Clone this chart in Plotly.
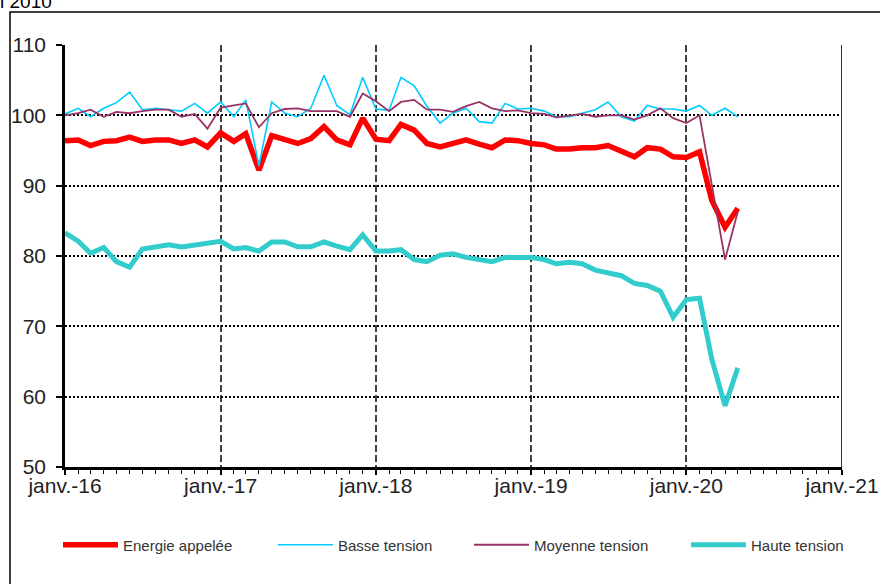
import plotly.graph_objects as go

months = [f"{2016 + i // 12}-{i % 12 + 1:02d}-01" for i in range(53)]

energie = [96.4, 96.5, 95.7, 96.3, 96.4, 96.9, 96.3, 96.5, 96.5, 96.0, 96.5, 95.5,
           97.5, 96.3, 97.4, 92.2, 97.1, 96.6, 96.0, 96.7, 98.4, 96.5, 95.8, 99.6,
           96.6, 96.4, 98.7, 97.9, 96.0, 95.5, 96.0, 96.5, 95.9, 95.4, 96.5, 96.4,
           96.0, 95.8, 95.2, 95.2, 95.4, 95.4, 95.7, 95.0, 94.1, 95.4, 95.2, 94.1,
           94.0, 94.8, 87.9, 84.1, 86.8]
basse = [100.2, 101.0, 99.8, 101.0, 101.8, 103.3, 100.8, 101.0, 100.8, 100.6, 101.7, 100.3,
         101.9, 99.8, 102.2, 92.8, 101.9, 100.3, 99.8, 101.0, 105.7, 101.4, 100.1, 105.4,
         100.9, 100.7, 105.4, 104.2, 101.3, 98.9, 100.3, 101.0, 99.1, 98.9, 101.7, 100.9,
         101.0, 100.6, 99.8, 99.8, 100.3, 100.8, 101.9, 99.8, 99.2, 101.4, 100.9, 100.9,
         100.6, 101.4, 100.0, 101.0, 99.8]
moyenne = [100.0, 100.3, 100.8, 99.8, 100.5, 100.3, 100.6, 100.8, 100.8, 99.8, 100.2, 98.1,
           101.1, 101.4, 101.7, 98.3, 100.3, 100.9, 101.0, 100.6, 100.6, 100.6, 99.8, 103.1,
           102.0, 100.6, 101.9, 102.2, 100.8, 100.8, 100.5, 101.3, 101.9, 101.0, 100.6, 100.7,
           100.3, 100.2, 99.7, 100.0, 100.2, 99.8, 100.0, 100.0, 99.4, 100.0, 101.0, 99.6,
           98.9, 100.0, 89.8, 79.5, 86.3]
haute = [83.3, 82.1, 80.4, 81.2, 79.2, 78.4, 81.0, 81.3, 81.6, 81.3, 81.6, 81.9,
         82.1, 81.0, 81.2, 80.7, 82.0, 82.0, 81.3, 81.3, 82.0, 81.4, 80.9, 83.0,
         80.7, 80.7, 80.9, 79.5, 79.2, 80.1, 80.3, 79.8, 79.5, 79.2, 79.8, 79.8,
         79.8, 79.5, 78.9, 79.1, 78.9, 78.0, 77.6, 77.2, 76.1, 75.8, 75.0, 71.3,
         73.8, 74.0, 65.3, 58.7, 64.1]

year_ticks = ["2016-01-01", "2017-01-01", "2018-01-01", "2019-01-01", "2020-01-01", "2021-01-01"]
year_labels = ["janv.-16", "janv.-17", "janv.-18", "janv.-19", "janv.-20", "janv.-21"]
y_ticks = [50, 60, 70, 80, 90, 100, 110]

FONT = "Liberation Sans, Arial, sans-serif"
L, R, T, B = 65, 38, 45, 117
W, H = 880, 584
PW, PH = W - L - R, H - T - B


def px_x(px):
    return (px - L) / PW


def px_y(py):
    return (H - B - py) / PH


fig = go.Figure()
fig.add_trace(go.Scatter(x=months, y=energie, name="Energie appelée", mode="lines",
                         line=dict(color="#FF0000", width=5.5), legend="legend"))
fig.add_trace(go.Scatter(x=months, y=basse, name="Basse tension", mode="lines",
                         line=dict(color="#00CCFF", width=1.6), legend="legend2"))
fig.add_trace(go.Scatter(x=months, y=moyenne, name="Moyenne tension", mode="lines",
                         line=dict(color="#993366", width=1.8), legend="legend3"))
fig.add_trace(go.Scatter(x=months, y=haute, name="Haute tension", mode="lines",
                         line=dict(color="#33CCCC", width=5), legend="legend4"))

leg_common = dict(orientation="h", y=px_y(545), xanchor="left", yanchor="middle",
                  font=dict(size=15, family=FONT, color="#333333"), itemwidth=55,
                  bgcolor="rgba(0,0,0,0)")

fig.update_layout(
    width=W, height=H,
    margin=dict(l=L, r=R, t=T, b=B, autoexpand=False),
    paper_bgcolor="white", plot_bgcolor="white",
    font=dict(family=FONT, color="black"),
    showlegend=True,
    legend=dict(x=px_x(58), **leg_common),
    legend2=dict(x=px_x(273), **leg_common),
    legend3=dict(x=px_x(469), **leg_common),
    legend4=dict(x=px_x(686), **leg_common),
    xaxis=dict(
        type="date", range=["2016-01-01", "2021-01-01"], automargin=False,
        tickvals=year_ticks, ticktext=year_labels,
        tickfont=dict(size=21, family=FONT, color="#222222"),
        ticklabelstandoff=-7,
        showgrid=True, gridcolor="#404040", griddash="7px,3px", gridwidth=1.5,
        showline=True, linecolor="black", linewidth=2.5,
        ticks="outside", ticklen=5, tickcolor="black", tickwidth=1.5,
        minor=dict(dtick="M1", ticks="outside", ticklen=4, tickcolor="black",
                   tickwidth=1.2, showgrid=False),
        zeroline=False,
    ),
    yaxis=dict(
        range=[50, 110], tickvals=y_ticks, automargin=False,
        tickfont=dict(size=21, family=FONT, color="#222222"),
        showgrid=True, gridcolor="black", griddash="2px,2px", gridwidth=2,
        showline=True, linecolor="black", linewidth=2.5,
        ticks="outside", ticklen=6, tickcolor="black", tickwidth=1.5,
        ticklabelstandoff=6,
        zeroline=False,
    ),
    shapes=[
        dict(type="line", xref="x", yref="y", x0="2021-01-01", x1="2021-01-01", y0=50, y1=110,
             line=dict(color="#333333", width=2)),
        dict(type="rect", xref="paper", yref="paper", x0=px_x(10), x1=px_x(900),
             y0=px_y(600), y1=px_y(12),
             line=dict(color="black", width=1.5), fillcolor="rgba(0,0,0,0)", layer="below"),
    ],
    annotations=[
        dict(text="l 2010", xref="paper", yref="paper", x=px_x(-2), y=px_y(14),
             xanchor="left", yanchor="bottom", showarrow=False,
             font=dict(size=19, family=FONT)),
    ],
)

fig.write_html("out.html", post_script="document.body.style.margin='0';",
               config={"displayModeBar": False})
